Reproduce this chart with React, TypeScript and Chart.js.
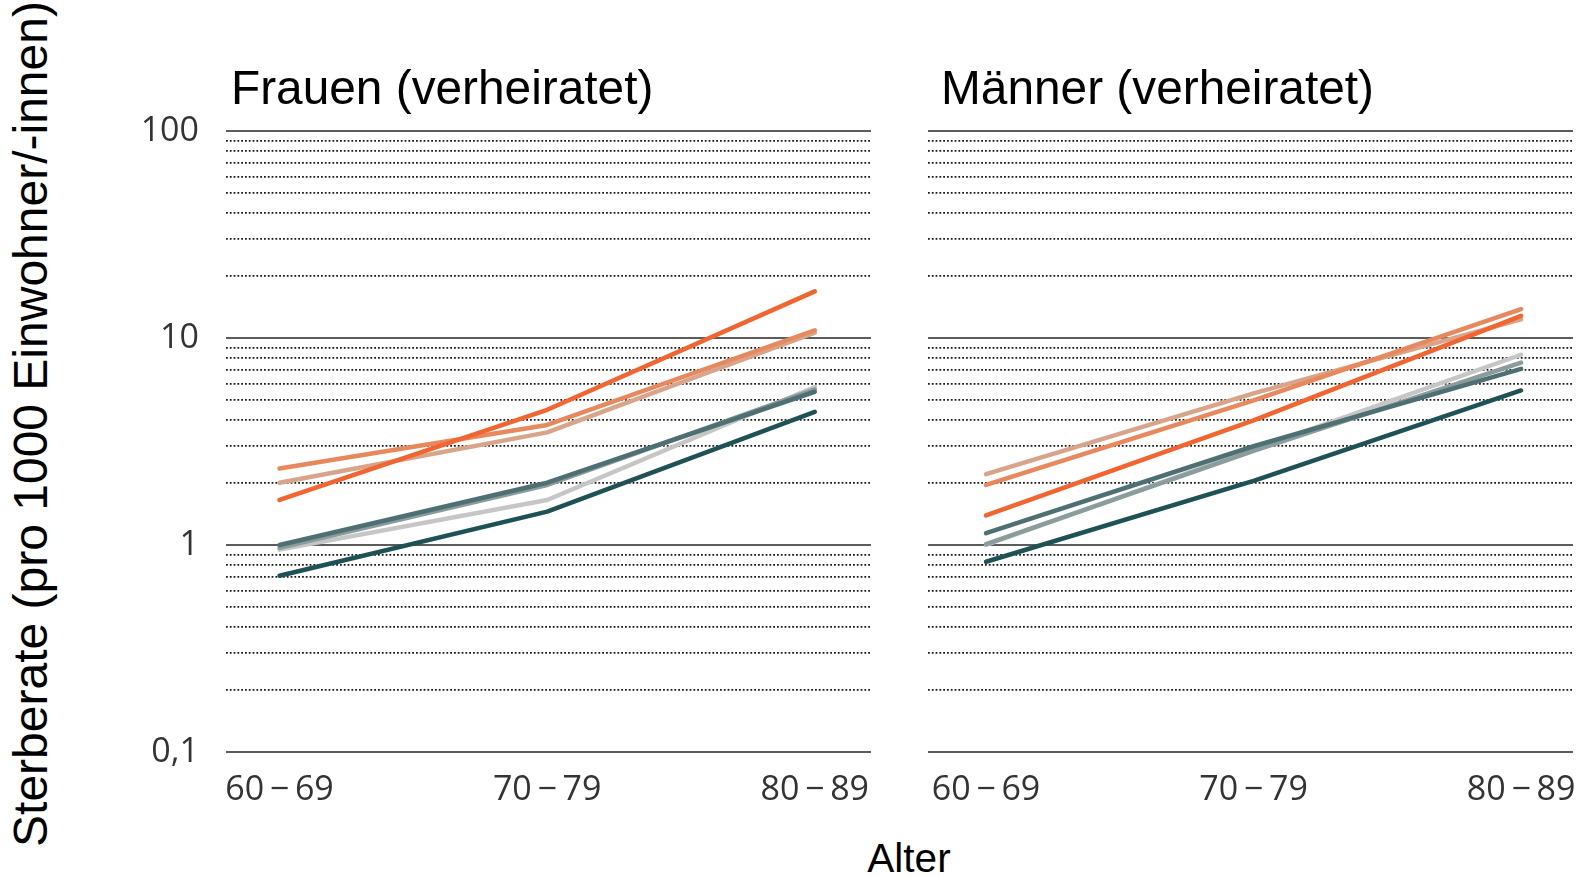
import React, { useEffect, useRef } from 'react';
import { Chart, registerables } from 'chart.js';

Chart.register(...registerables);

// ---- Data ----
const AGE_GROUPS = ['60\u2009−\u200969', '70\u2009−\u200979', '80\u2009−\u200989'];
const Y_MAJOR = [0.1, 1, 10, 100];
const Y_MAJOR_LABELS = ['0,1', '1', '10', '100'];
const Y_GRID = [
  0.1, 0.2, 0.3, 0.4, 0.5, 0.6, 0.7, 0.8, 0.9,
  1, 2, 3, 4, 5, 6, 7, 8, 9,
  10, 20, 30, 40, 50, 60, 70, 80, 90, 100,
];

const PANEL_TITLES = ['Frauen (verheiratet)', 'Männer (verheiratet)'];
const X_TITLE = 'Alter';
const Y_TITLE = 'Sterberate (pro 1000 Einwohner/-innen)';

const SERIES_NAMES = ['Rot', 'Orange', 'Beige', 'Graublau', 'Grau', 'Hellgrau', 'Dunkelpetrol'];
const SERIES_COLORS = ['#F26430', '#E8895D', '#D9A58A', '#4E7073', '#8A9C9C', '#C6C6C6', '#1F5255'];

// Frauen (verheiratet)
const F_ROT = [1.65, 4.5, 16.8];
const F_ORANGE = [2.34, 3.8, 10.9];
const F_BEIGE = [2.0, 3.5, 10.6];
const F_GRAUBLAU = [1.0, 2.0, 5.5];
const F_GRAU = [0.97, 1.95, 5.65];
const F_HELLGRAU = [0.95, 1.65, 5.8];
const F_DUNKEL = [0.71, 1.45, 4.4];

// Männer (verheiratet)
const M_ROT = [1.39, 4.0, 12.8];
const M_ORANGE = [1.95, 5.0, 13.8];
const M_BEIGE = [2.2, 5.4, 12.3];
const M_GRAUBLAU = [1.14, 3.0, 7.1];
const M_GRAU = [1.01, 2.85, 7.6];
const M_HELLGRAU = [1.0, 2.9, 8.3];
const M_DUNKEL = [0.83, 2.04, 5.58];

const FRAUEN = [F_ROT, F_ORANGE, F_BEIGE, F_GRAUBLAU, F_GRAU, F_HELLGRAU, F_DUNKEL];
const MAENNER = [M_ROT, M_ORANGE, M_BEIGE, M_GRAUBLAU, M_GRAU, M_HELLGRAU, M_DUNKEL];

const TICK_FONT = { family: '"Open Sans", sans-serif', size: 34 };
const TICK_COLOR = '#333333';

function isMajor(v: number) {
  return Y_MAJOR.some((m) => Math.abs(m - v) < 1e-9);
}

type PanelOpts = {
  showY: boolean;
  yWidth: number;
  padL: number;
  padR: number;
  xMin: number;
  xMax: number;
};

function buildConfig(series: number[][], o: PanelOpts): any {
  return {
    type: 'line',
    data: {
      datasets: series.map((vals, k) => ({
        label: SERIES_NAMES[k],
        data: vals.map((v, i) => ({ x: i, y: v })),
        borderColor: SERIES_COLORS[k],
        backgroundColor: SERIES_COLORS[k],
        borderWidth: 4.5,
        pointRadius: 0,
        tension: 0,
        fill: false,
        borderCapStyle: 'round',
        borderJoinStyle: 'round',
        order: k === 5 ? 10 : k,
      })),
    },
    options: {
      animation: false,
      responsive: false,
      events: [],
      layout: { padding: { left: o.padL, right: o.padR, top: 31, bottom: 0 } },
      plugins: { legend: { display: false }, tooltip: { enabled: false }, title: { display: false } },
      scales: {
        x: {
          type: 'linear',
          min: o.xMin,
          max: o.xMax,
          afterBuildTicks: (s: any) => {
            s.ticks = AGE_GROUPS.map((_, i) => ({ value: i }));
          },
          afterFit: (s: any) => {
            s.height = 60;
            s.paddingLeft = 0;
            s.paddingRight = 0;
          },
          ticks: {
            autoSkip: false,
            maxRotation: 0,
            padding: 18,
            font: TICK_FONT,
            color: TICK_COLOR,
            callback: (v: any) => AGE_GROUPS[Math.round(Number(v))] ?? '',
          },
          grid: { display: false, drawTicks: false },
          border: { display: false },
        },
        y: {
          type: 'logarithmic',
          min: 0.1,
          max: 100,
          afterBuildTicks: (s: any) => {
            s.ticks = Y_GRID.map((v) => ({ value: v, major: isMajor(v) }));
          },
          afterFit: (s: any) => {
            s.width = o.yWidth;
            s.paddingTop = 0;
            s.paddingBottom = 0;
          },
          ticks: {
            display: o.showY,
            autoSkip: false,
            padding: 27,
            font: TICK_FONT,
            color: TICK_COLOR,
            callback: (v: any) => {
              const idx = Y_MAJOR.findIndex((m) => Math.abs(m - Number(v)) < 1e-9);
              return idx >= 0 ? Y_MAJOR_LABELS[idx] : '';
            },
          },
          grid: {
            drawTicks: false,
            color: (ctx: any) => (ctx.tick && isMajor(ctx.tick.value) ? '#5c5c5c' : '#1a1a1a'),
            lineWidth: (ctx: any) => (ctx.tick && isMajor(ctx.tick.value) ? 2 : 1.8),
          },
          border: {
            display: false,
            dash: (ctx: any) => (ctx.tick && isMajor(ctx.tick.value) ? [] : [1.8, 2]),
          },
        },
      },
    },
  };
}

function Panel(props: { series: number[][]; left: number; width: number; opts: PanelOpts }) {
  const ref = useRef<HTMLCanvasElement>(null);
  useEffect(() => {
    if (!ref.current) return;
    const chart = new Chart(ref.current, buildConfig(props.series, props.opts));
    return () => chart.destroy();
  }, []);
  return (
    <canvas
      ref={ref}
      width={props.width}
      height={712}
      style={{ position: 'absolute', left: props.left, top: 100, width: props.width, height: 712 }}
    />
  );
}

export default function App() {
  const textBase: React.CSSProperties = {
    position: 'absolute',
    fontFamily: '"Liberation Sans", Arial, sans-serif',
    color: '#000',
    whiteSpace: 'nowrap',
    lineHeight: 1,
    margin: 0,
  };
  return (
    <div style={{ position: 'absolute', left: 0, top: 0, width: 1581, height: 877, background: '#fff', overflow: 'hidden' }}>
      <Panel
        series={FRAUEN}
        left={100}
        width={781}
        opts={{ showY: true, yWidth: 126, padL: 0, padR: 10, xMin: -0.2, xMax: 2.21 }}
      />
      <Panel
        series={MAENNER}
        left={918}
        width={663}
        opts={{ showY: false, yWidth: 0, padL: 10, padR: 8, xMin: -0.217, xMax: 2.194 }}
      />
      <div style={{ ...textBase, left: 231, top: 64, fontSize: 47.8 }}>{PANEL_TITLES[0]}</div>
      <div style={{ ...textBase, left: 941, top: 64, fontSize: 47.8 }}>{PANEL_TITLES[1]}</div>
      <div style={{ ...textBase, left: 909, top: 838, fontSize: 40.5, transform: 'translateX(-50%)' }}>{X_TITLE}</div>
      <div
        style={{
          ...textBase,
          left: 31,
          top: 424,
          fontSize: 48,
          transform: 'translate(-50%, -50%) rotate(-90deg)',
        }}
      >
        {Y_TITLE}
      </div>
    </div>
  );
}
